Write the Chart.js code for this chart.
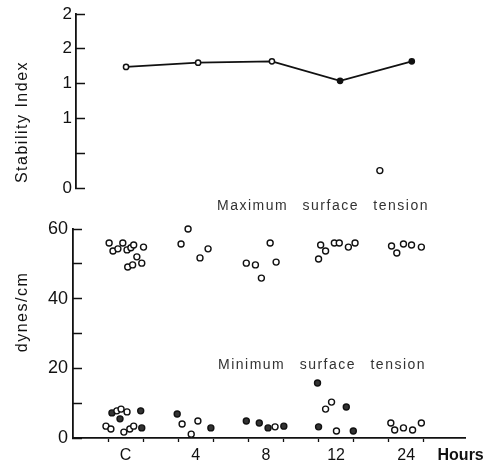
<!DOCTYPE html>
<html>
<head>
<meta charset="utf-8">
<script src="https://cdn.jsdelivr.net/npm/chart.js@4"></script>
<style>
  body { margin: 0; background: #fff; }
  #wrap { position: relative; width: 488px; height: 467px; font-family: "Liberation Sans", sans-serif; color: #111; }
  canvas { position: absolute; left: 0; }
  .note { position: absolute; font-size: 14px; letter-spacing: 1.5px; word-spacing: 9px; white-space: nowrap; transform: translateY(-50%); color: #333; }
  .ytitle { position: absolute; font-size: 16px; letter-spacing: 1.5px; white-space: nowrap; transform: translate(-50%, -50%) rotate(-90deg); }
</style>
</head>
<body>
<div id="wrap">
  <canvas id="top" width="488" height="200" style="top:0"></canvas>
  <canvas id="bottom" width="488" height="267" style="top:200px"></canvas>
  <div class="ytitle" style="left:22px; top:122px">Stability Index</div>
  <div class="ytitle" style="left:22px; top:312px">dynes/cm</div>
  <div class="note" style="left:217px; top:205px">Maximum surface tension</div>
  <div class="note" style="left:218px; top:364px">Minimum surface tension</div>
</div>
<script>
// Hours (positions on the x axis, one unit per tick)
const hourLabels = ["C", "4", "8", "12", "24"];
const hourPos = [0.5, 2.5, 4.5, 6.5, 8.5];
const tickMarks = [0, 1, 2, 3, 4, 5, 6, 7, 8, 9];
const unitLabel = "Hours";
const unitPos = 10.05;

// Stability index
const stabX = [0.51, 2.54, 4.62, 6.54, 8.56];
const stabY = [1.74, 1.80, 1.82, 1.54, 1.82];
const strayX = [7.66];
const strayY = [0.25];
const stabTickLabels = ["0", "", "1", "1", "2", "2"];

// Maximum surface tension
const maxX = [0.03, 0.14, 0.28, 0.42, 0.54, 0.65, 0.73, 1.01, 0.82, 0.56, 0.70, 0.96,
  2.45, 2.28, 2.08, 2.85, 2.62,
  4.62, 3.94, 4.20, 4.79, 4.37,
  6.06, 6.20, 6.00, 6.45, 6.59, 6.85, 7.04,
  8.08, 8.23, 8.42, 8.65, 8.93];
const maxY = [56.0, 53.7, 54.3, 56.0, 54.0, 54.6, 55.4, 54.8, 52.0, 49.1, 49.7, 50.2,
  62.9, 60.0, 55.7, 54.3, 51.7,
  56.0, 50.2, 49.7, 50.5, 45.9,
  55.4, 53.7, 51.4, 56.0, 56.0, 54.8, 56.0,
  55.1, 53.1, 55.7, 55.4, 54.8];

// Minimum surface tension
const minOpenX = [0.25, 0.37, 0.54, -0.06, 0.08, 0.45, 0.62, 0.73,
  2.11, 2.56, 2.37, 4.76, 6.20, 6.37, 6.51,
  8.06, 8.17, 8.42, 8.68, 8.93];
const minOpenY = [7.8, 8.3, 7.5, 3.4, 2.6, 1.7, 2.6, 3.4,
  4.0, 4.9, 1.1, 3.2, 8.3, 10.3, 2.0,
  4.3, 2.3, 2.9, 2.3, 4.3];
const minFilledX = [0.11, 0.34, 0.93, 0.96, 1.97, 2.93, 3.94, 4.31, 4.56, 5.01, 5.97, 6.79, 6.00, 6.99];
const minFilledY = [7.2, 5.5, 7.8, 2.9, 6.9, 2.9, 4.9, 4.3, 2.9, 3.4, 15.8, 8.9, 3.2, 2.0];

const yTickLabels = ["0", "", "20", "", "40", "", "60"];

const zip = (xs, ys) => xs.map((x, i) => ({ x: x, y: ys[i] }));
const FONT = "Liberation Sans";
const INK = "#111";

const marker = (fill, r) => ({
  pointRadius: r,
  pointBackgroundColor: fill,
  pointBorderColor: INK,
  pointBorderWidth: 1.4,
  showLine: false,
  clip: false,
});

// y axes: fixed width, and no extra room for the end labels
const fixAxis = (w) => (s) => {
  s.width = w;
  s.paddingTop = 0;
  s.paddingBottom = 0;
};

// Top panel
new Chart(document.getElementById("top"), {
  type: "scatter",
  data: {
    datasets: [
      {
        data: zip(stabX, stabY),
        showLine: true,
        borderColor: INK,
        borderWidth: 1.8,
        pointRadius: 2.6,
        pointBackgroundColor: ["#fff", "#fff", "#fff", INK, INK],
        pointBorderColor: INK,
        pointBorderWidth: 1.5,
        clip: false,
      },
      Object.assign({ data: zip(strayX, strayY) }, marker("#fff", 3)),
    ],
  },
  options: {
    responsive: false,
    animation: false,
    devicePixelRatio: 1,
    layout: { padding: { top: 14, bottom: 12, right: 18, left: 0 } },
    plugins: { legend: { display: false }, tooltip: { enabled: false } },
    scales: {
      x: { type: "linear", display: false, min: -0.9, max: 10.2 },
      y: {
        min: 0,
        max: 2.5,
        afterFit: fixAxis(76),
        ticks: {
          stepSize: 0.5,
          padding: 13,
          color: INK,
          font: { family: FONT, size: 17 },
          callback: (v, i) => stabTickLabels[i],
        },
        grid: { drawOnChartArea: false, tickLength: -9, tickColor: INK, tickWidth: 1.5 },
        border: { color: INK, width: 1.8 },
      },
    },
  },
});

// Bottom panel
const xLabelFor = (v) => {
  const i = hourPos.indexOf(v);
  if (i >= 0) return hourLabels[i];
  if (v === unitPos) return unitLabel;
  return "";
};

new Chart(document.getElementById("bottom"), {
  type: "scatter",
  data: {
    datasets: [
      Object.assign({ data: zip(maxX, maxY) }, marker("#fff", 3)),
      Object.assign({ data: zip(minOpenX, minOpenY) }, marker("#fff", 3)),
      Object.assign({ data: zip(minFilledX, minFilledY) }, marker("#333", 3)),
    ],
  },
  options: {
    responsive: false,
    animation: false,
    devicePixelRatio: 1,
    layout: { padding: { top: 29, bottom: 0, right: 18, left: 0 } },
    plugins: { legend: { display: false }, tooltip: { enabled: false } },
    scales: {
      x: {
        type: "linear",
        min: -1,
        max: 10.2,
        afterFit: (s) => { s.height = 29; },
        afterBuildTicks: (s) => {
          s.ticks = tickMarks.concat(hourPos, [unitPos])
            .sort((a, b) => a - b)
            .map((v) => ({ value: v }));
        },
        ticks: {
          autoSkip: false,
          maxRotation: 0,
          padding: 4,
          color: INK,
          font: (ctx) => ({ family: FONT, size: 16, weight: ctx.tick && ctx.tick.value === unitPos ? "bold" : "normal" }),
          callback: (v) => xLabelFor(v),
        },
        grid: {
          drawOnChartArea: false,
          tickLength: 4,
          tickWidth: 1.3,
          tickColor: (ctx) => (Number.isInteger(ctx.tick.value) ? INK : "rgba(0,0,0,0)"),
        },
        border: { color: INK, width: 1.8 },
      },
      y: {
        min: 0,
        max: 60,
        afterFit: fixAxis(73),
        ticks: {
          stepSize: 10,
          padding: 14,
          color: INK,
          font: { family: FONT, size: 18 },
          callback: (v, i) => yTickLabels[i],
        },
        grid: { drawOnChartArea: false, tickLength: -9, tickColor: INK, tickWidth: 1.5 },
        border: { color: INK, width: 1.8 },
      },
    },
  },
});
</script>
</body>
</html>
